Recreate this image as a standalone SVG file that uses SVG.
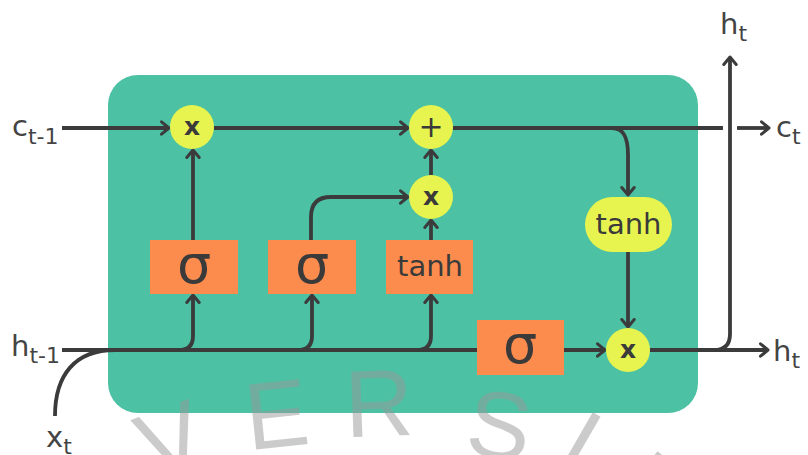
<svg xmlns="http://www.w3.org/2000/svg" width="808" height="455" viewBox="0 0 808 455">
<style>
.ln{fill:none;stroke:#3b3b3b;stroke-width:3.8;stroke-linecap:butt}
.ar{marker-end:url(#arr)}
.op{fill:#e7f44f}
.gate{fill:#fb8c4e}
.t{font-family:"DejaVu Sans","Liberation Sans",sans-serif;fill:#3a3a3a}
.bx{font-weight:bold}
.lab{font-family:"DejaVu Sans","Liberation Sans",sans-serif;fill:#444;font-size:29px}
.sub{font-size:22px}
.wm{font-family:"Liberation Sans",Arial,sans-serif;font-size:95px;fill:#999;opacity:0.5;text-anchor:middle}
</style>
<defs>
<marker id="arr" viewBox="0 0 12 16" refX="10" refY="8" markerWidth="12" markerHeight="16" markerUnits="userSpaceOnUse" orient="auto">
<path d="M2.5,1.8 L10,8 L2.5,14.2" fill="none" stroke="#3b3b3b" stroke-width="3" stroke-linecap="round" stroke-linejoin="round"/>
</marker>
</defs>
<rect width="808" height="455" fill="#ffffff"/>
<g id="cell"><rect x="108" y="75" width="590" height="338" rx="30" fill="#4cc1a4"/></g>
<g id="watermark">
<text class="wm" transform="translate(182,471) rotate(-20)">V</text>
<text class="wm" transform="translate(280,447) rotate(-6)">E</text>
<text class="wm" transform="translate(380,436) rotate(-2)">R</text>
<text class="wm" transform="translate(495,458) rotate(8)">S</text>
<text class="wm" transform="translate(564,471) rotate(30)">I</text>
<text class="wm" style="text-anchor:start" transform="translate(614,500) rotate(40)">T</text>
</g>
<g id="connectors">
<path class="ln ar" d="M62,128 H169"/>
<path class="ln ar" d="M214,128 H408"/>
<path class="ln" d="M453,128 H723"/>
<path class="ln ar" d="M737,128 H769"/>
<path class="ln ar" d="M612,128 C624,128 628,138 628,155 V195"/>
<path class="ln ar" d="M628,252 V327"/>
<path class="ln ar" d="M193,240 V150"/>
<path class="ln ar" d="M311,240 V217 Q311,197 331,197 H408"/>
<path class="ln ar" d="M431,240 V220"/>
<path class="ln ar" d="M431,175 V150"/>
<path class="ln" d="M62,350 H477"/>
<path class="ln" d="M55,416 C55,375 75,350 115,350"/>
<path class="ln ar" d="M179,350 Q193,350 193,336 V295"/>
<path class="ln ar" d="M298,350 Q312,350 312,336 V295"/>
<path class="ln ar" d="M417,350 Q431,350 431,336 V295"/>
<path class="ln ar" d="M564,350 H605"/>
<path class="ln ar" d="M650,350 H768"/>
<path class="ln ar" d="M714,350 Q730,350 730,334 V57"/>
</g>
<g id="forget-mult"><circle class="op" cx="192" cy="127" r="22"/><text class="t bx" x="192" y="135" font-size="25" text-anchor="middle">x</text></g>
<g id="add"><circle class="op" cx="431" cy="127" r="22"/><text class="t" x="431" y="137" font-size="30" text-anchor="middle">+</text></g>
<g id="input-mult"><circle class="op" cx="431" cy="197" r="22"/><text class="t bx" x="431" y="205" font-size="25" text-anchor="middle">x</text></g>
<g id="out-tanh"><rect class="op" x="585" y="197" width="87" height="55" rx="27.5"/><text class="t" x="628.5" y="234" font-size="29" text-anchor="middle">tanh</text></g>
<g id="output-mult"><circle class="op" cx="628" cy="350" r="22"/><text class="t bx" x="628" y="358" font-size="25" text-anchor="middle">x</text></g>
<g id="forget-gate"><rect class="gate" x="150" y="240" width="88" height="54"/><text class="t" x="194" y="283" font-size="54" text-anchor="middle">σ</text></g>
<g id="input-gate"><rect class="gate" x="268" y="240" width="88" height="54"/><text class="t" x="312" y="283" font-size="54" text-anchor="middle">σ</text></g>
<g id="candidate"><rect class="gate" x="386" y="240" width="87" height="54"/><text class="t" x="430" y="276" font-size="29" text-anchor="middle">tanh</text></g>
<g id="output-gate"><rect class="gate" x="477" y="320" width="87" height="55"/><text class="t" x="520" y="363" font-size="54" text-anchor="middle">σ</text></g>
<g id="labels">
<text class="lab" x="12" y="136">c<tspan class="sub" dy="8">t-1</tspan></text>
<text class="lab" x="11" y="356">h<tspan class="sub" dy="7">t-1</tspan></text>
<text class="lab" x="46" y="447">x<tspan class="sub" dy="7">t</tspan></text>
<text class="lab" x="720" y="34">h<tspan class="sub" dy="7">t</tspan></text>
<text class="lab" x="776" y="137">c<tspan class="sub" dy="7">t</tspan></text>
<text class="lab" x="773" y="361">h<tspan class="sub" dy="7">t</tspan></text>
</g>
</svg>
